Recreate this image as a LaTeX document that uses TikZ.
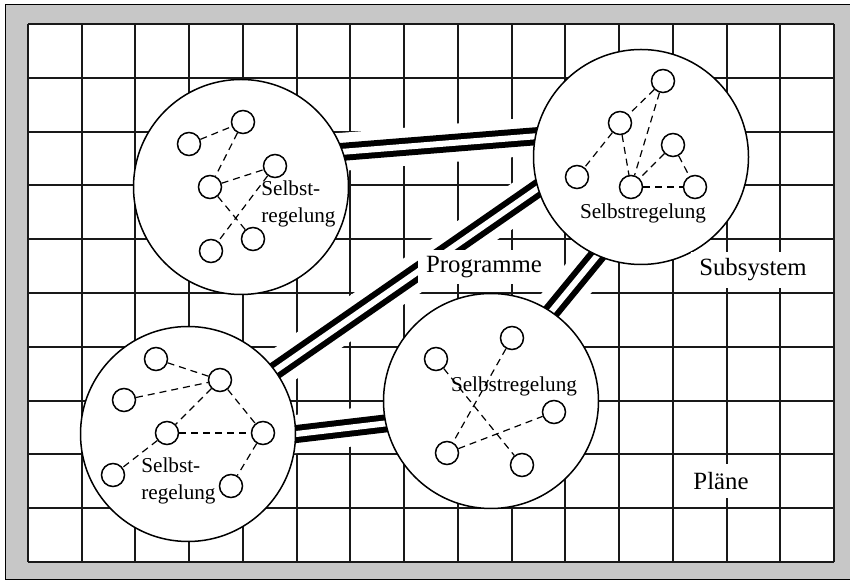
\documentclass[tikz,border=0pt]{standalone}
\usepackage{fontspec}
\setmainfont{Liberation Serif}
\pgfdeclarelayer{grid}
\pgfdeclarelayer{links}
\pgfsetlayers{grid,links,main}
\definecolor{framegray}{gray}{0.78}
\newcommand\cw{53.73}
\newcommand\ch{53.8}

\begin{document}
\begin{tikzpicture}[x=.5pt,y=-.5pt,
		subsys/.style={circle,draw=black,line width=.75pt,fill=white,minimum size=107.5pt,inner sep=0pt},
		unit/.style={circle,draw=black,line width=.75pt,fill=white,minimum size=11.5pt,inner sep=0pt},
		ctrl/.style={black,line width=.6pt,dash pattern=on 3.5pt off 2.5pt},
		channel/.style={preaction={draw=white,line width=19pt},draw=black,double=white,line width=3pt,double distance=3pt,shorten <=-6pt,shorten >=-6pt},
		gridline/.style={black!90,line width=1pt},
		inner/.style={font=\fontsize{10.6}{13.5}\selectfont,align=left,inner sep=0pt},
		lbl/.style={fill=white,font=\fontsize{12.4}{15}\selectfont,minimum height=17pt,inner xsep=4pt}]
		\useasboundingbox (0,0) rectangle (850,581);
		\node(c1)[subsys] at (241,187) {};
		\node(c2)[subsys] at (641,157) {};
		\node(c3)[subsys] at (188,434) {};
		\node(c4)[subsys] at (491,401) {};
		\node(t1)[inner,anchor=west] at (261,204) {Selbst-\\regelung};
		\node(t2)[inner] at (643,213) {Selbstregelung};
		\node(t3)[inner,anchor=west] at (141,481) {Selbst-\\regelung};
		\node(t4)[inner] at (514,386) {Selbstregelung};
		\node(c1a)[unit] at (189,144) {};
		\node(c1b)[unit] at (243,122) {};
		\node(c1c)[unit] at (275,166) {};
		\node(c1d)[unit] at (210,187) {};
		\node(c1e)[unit] at (253,239) {};
		\node(c1f)[unit] at (211,251) {};
		\node(c2a)[unit] at (663,81) {};
		\node(c2b)[unit] at (620,123) {};
		\node(c2c)[unit] at (673,145) {};
		\node(c2d)[unit] at (577,177) {};
		\node(c2e)[unit] at (631,187) {};
		\node(c2f)[unit] at (695,187) {};
		\node(c3a)[unit] at (156,359) {};
		\node(c3b)[unit] at (124,400) {};
		\node(c3c)[unit] at (220,380) {};
		\node(c3d)[unit] at (167,433) {};
		\node(c3e)[unit] at (263,433) {};
		\node(c3f)[unit] at (113,475) {};
		\node(c3g)[unit] at (231,486) {};
		\node(c4a)[unit] at (436,359) {};
		\node(c4b)[unit] at (512,338) {};
		\node(c4c)[unit] at (554,412) {};
		\node(c4d)[unit] at (447,453) {};
		\node(c4e)[unit] at (522,465) {};
		\path [ctrl] (c1a) edge (c1b);
		\path [ctrl] (c1b) edge (c1d);
		\path [ctrl] (c1d) edge (c1c);
		\path [ctrl] (c1d) edge (c1e);
		\path [ctrl] (c1c) edge (c1f);
		\path [ctrl] (c2a) edge (c2b);
		\path [ctrl] (c2b) edge (c2d);
		\path [ctrl] (c2a) edge (c2e);
		\path [ctrl] (c2b) edge (c2e);
		\path [ctrl] (c2c) edge (c2e);
		\path [ctrl] (c2c) edge (c2f);
		\path [ctrl] (c2e) edge (c2f);
		\path [ctrl] (c3a) edge (c3c);
		\path [ctrl] (c3b) edge (c3c);
		\path [ctrl] (c3c) edge (c3d);
		\path [ctrl] (c3c) edge (c3e);
		\path [ctrl] (c3d) edge (c3e);
		\path [ctrl] (c3d) edge (c3f);
		\path [ctrl] (c3e) edge (c3g);
		\path [ctrl] (c4b) edge (c4d);
		\path [ctrl] (c4a) edge (c4e);
		\path [ctrl] (c4d) edge (c4c);
		\node(prog)[lbl] at (484,267) {Programme};
		\node(subs)[lbl] at (753,270) {Subsystem};
		\node(plae)[lbl] at (721,481) {Pläne};
		\begin{pgfonlayer}{links}
			\draw [channel] (c1.19) -- (c2.169);
			\draw [channel] (c3.36) -- (c2.197);
			\draw [channel] (c3.0) -- (c4.192);
			\draw [channel] (c4.56) -- (c2.246);
		\end{pgfonlayer}
		\begin{pgfonlayer}{grid}
			\fill [framegray] (5,5) rectangle (850,579);
			\draw [black,line width=.5pt] (850,5) -- (5,5) -- (5,579) -- (850,579);
			\fill [white] (28,24) rectangle (834,562);
			\foreach \i in {0,...,15} \draw [gridline] ({28+\i*\cw},24) -- ({28+\i*\cw},562);
			\foreach \j in {0,...,10} \draw [gridline] (28,{24+\j*\ch}) -- (834,{24+\j*\ch});
		\end{pgfonlayer}
	\end{tikzpicture}
\end{document}
